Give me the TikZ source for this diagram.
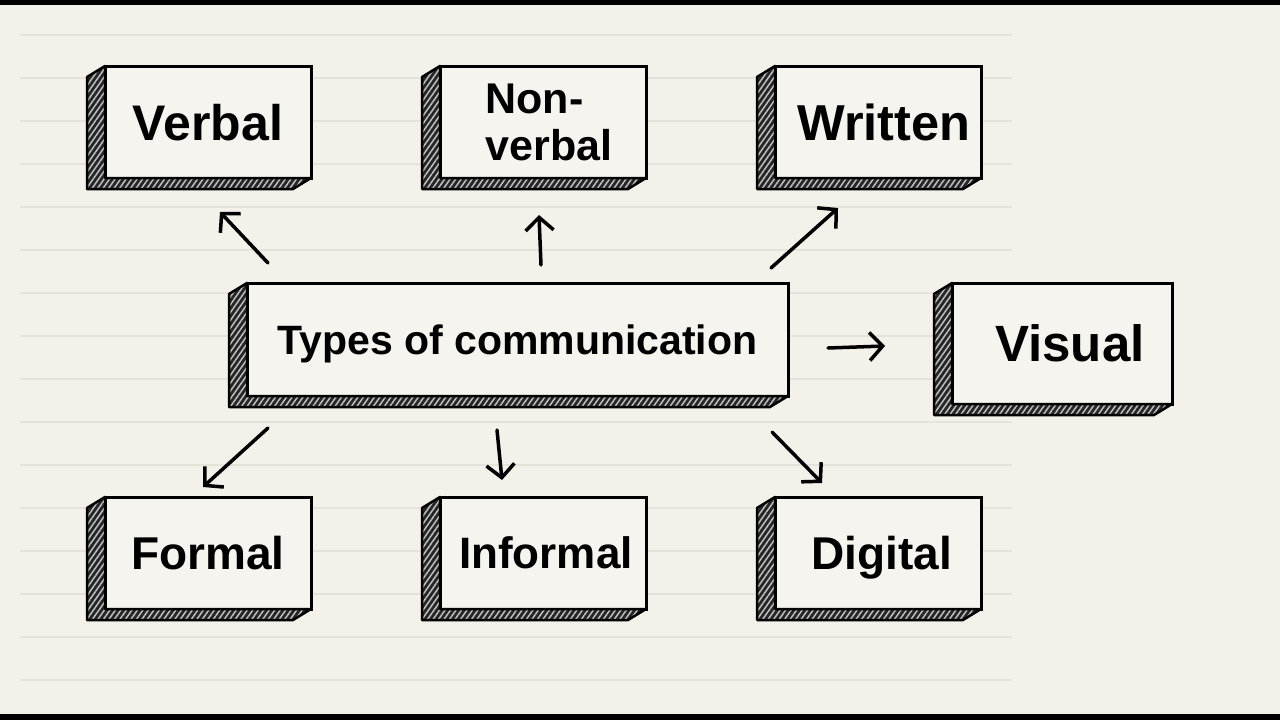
\documentclass[tikz,border=0pt]{standalone}
\usepackage{fontspec}
\setmainfont{Liberation Sans}
\usetikzlibrary{arrows.meta,patterns.meta,positioning}
\definecolor{paper}{HTML}{F3F1EA}
\definecolor{face}{HTML}{F6F4EF}
\definecolor{ruling}{HTML}{E6E3DA}
\newcommand{\sz}[1]{\fontsize{#1}{#1}\selectfont\bfseries}

\begin{document}
\begin{tikzpicture}[
    x=1pt, y=-1pt,
    node distance=319pt and 129pt,
    box/.style={draw, line width=3pt, fill=face, minimum width=206pt, minimum height=112pt, inner sep=0pt, outer sep=0pt, text depth=0pt, align=center},
    hatch/.style={draw, line width=2.5pt, line join=round, preaction={fill=black!85}, pattern={Lines[angle=55,distance=4.5pt,line width=1.5pt]}, pattern color=white!75!black},
    arr/.style={line width=3.5pt, line cap=round, -{Straight Barb[length=13pt,width=28pt,line width=3.5pt]}},
    rule/.style={draw=ruling, line width=1.5pt}
  ]

  % Paper
  \useasboundingbox (0,0) rectangle (1280,720);
  \fill[paper] (0,0) rectangle (1280,720);
  \fill[black] (0,0) rectangle (1280,5);
  \fill[black] (0,714) rectangle (1280,720);
  \foreach \y in {35,78,...,680}
    \draw[rule] (20,\y) -- (1012,\y);

  % Nodes
  \node[box, font=\sz{50}] (verbal) at (208,122) {Verbal};
  \node[box, font={\fontsize{43}{47}\selectfont\bfseries}, align=left, right=of verbal] (nonverbal) {\hspace*{12pt}Non-\\\hspace*{12pt}verbal};
  \node[box, font=\sz{50.5}, right=of nonverbal] (written) {\hspace*{12pt}Written};
  \node[box, font=\sz{41}, minimum width=541pt, minimum height=113pt] (comm) at (517.5,339.5) {Types of communication};
  \node[box, font=\sz{51}, minimum width=220pt, minimum height=121pt] (visual) at (1062,343.5) {\hspace*{16pt}Visual};
  \node[box, font=\sz{46}, below=of verbal] (formal) {Formal};
  \node[box, font=\sz{44}, below=of nonverbal] (informal) {\hspace*{6pt}Informal};
  \node[box, font=\sz{46}, below=of written] (digital) {\hspace*{8pt}Digital};

  % Hatched sides
  \foreach \n in {verbal,nonverbal,written,comm,visual,formal,informal,digital}
    \path[hatch] (\n.north west) -- ++(-18,11) -- ([shift={(-18,11)}]\n.south west)
      -- ([shift={(-18,11)}]\n.south east) -- (\n.south east) -- (\n.south west) -- cycle;

  % Arrows up
  \draw[arr] ([shift={(21,-20)}]comm.north west) -- ([shift={(12,34)}]verbal.south);
  \draw[arr] ([shift={(23.5,-18)}]comm.north) -- ([shift={(-4,37)}]nonverbal.south);
  \draw[arr] ([shift={(-17,-15)}]comm.north east) -- ([shift={(-40,30)}]written.south);

  % Arrow right
  \draw[arr] ([shift={(40,8.5)}]comm.east) -- ([shift={(-67,2.5)}]visual.west);

  % Arrows down
  \draw[arr] ([shift={(21,32)}]comm.south west) -- ([shift={(-5,-10)}]formal.north);
  \draw[arr] ([shift={(-20.5,34)}]comm.south) -- ([shift={(-41,-17)}]informal.north);
  \draw[arr] ([shift={(-16,36)}]comm.south east) -- ([shift={(-56,-14)}]digital.north);

\end{tikzpicture}
\end{document}
